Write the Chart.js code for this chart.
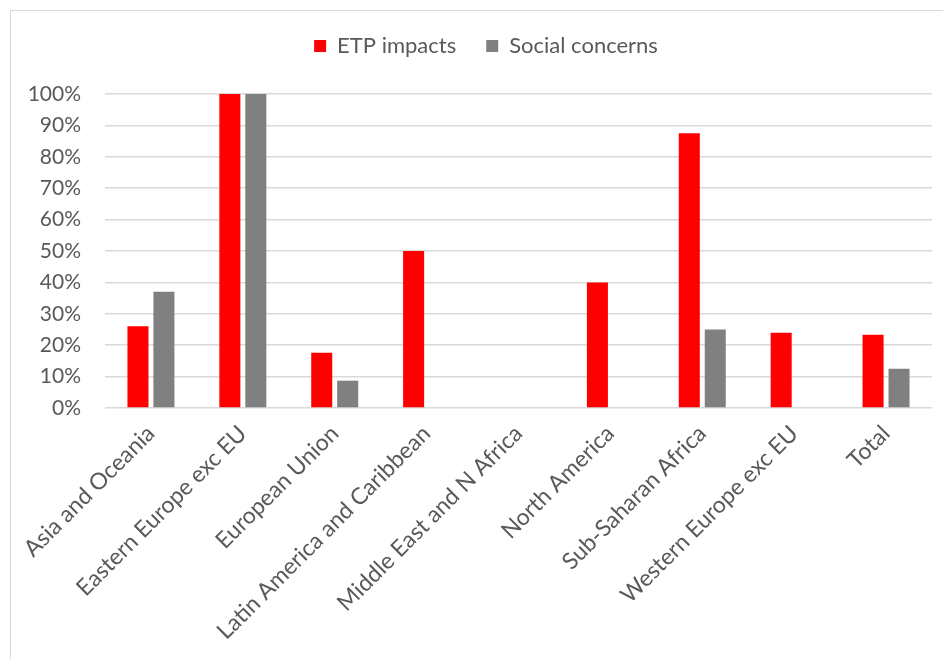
<!DOCTYPE html>
<html lang="en">
<head>
    <meta charset="UTF-8">
    <title>ETP impacts and social concerns by region</title>
    <script src="https://cdn.jsdelivr.net/npm/chart.js"></script>
    <style>
        body {
            margin: 0;
            background-color: #ffffff;
        }

        .wrap {
            position: relative;
            width: 943px;
            height: 659px;
            overflow: hidden;
        }

        /* light frame round the chart, only top and left edges show */
        .frame {
            position: absolute;
            left: 10px;
            top: 10px;
            width: 960px;
            height: 680px;
            border-top: 1.5px solid #d9d9d9;
            border-left: 1.5px solid #d9d9d9;
        }

        canvas {
            position: absolute;
            left: 0;
            top: 0;
        }
    </style>
</head>
<body>
    <div class="wrap">
        <div class="frame"></div>
        <canvas id="regionChart" width="943" height="659"></canvas>
    </div>

    <script>
        // Regions
        const regions = [
            'Asia and Oceania',
            'Eastern Europe exc EU',
            'European Union',
            'Latin America and Caribbean',
            'Middle East and N Africa',
            'North America',
            'Sub-Saharan Africa',
            'Western Europe exc EU',
            'Total'
        ];

        // Share of cases, percent
        const etpImpacts = [26, 100, 17.6, 50, 0, 40, 87.5, 24, 23.3];
        const socialConcerns = [37, 100, 8.7, 0, 0, 0, 25, 0, 12.5];

        const yTicks = [0, 10, 20, 30, 40, 50, 60, 70, 80, 90, 100];

        const textColor = '#595959';
        const gridColor = '#d9d9d9';
        const fontFamily = 'Lato, "Open Sans", sans-serif';

        // legend: extra room below it, and nudged right a little
        const legendTweak = {
            id: 'legendTweak',
            beforeInit(chart) {
                const legend = chart.legend;
                const fit = legend.fit;
                const draw = legend.draw;
                legend.fit = function () {
                    fit.apply(this, arguments);
                    this.height += 27;
                };
                legend.draw = function () {
                    const c = this.ctx;
                    c.save();
                    c.translate(20, 0);
                    draw.apply(this, arguments);
                    c.restore();
                };
            }
        };

        const ctx = document.getElementById('regionChart').getContext('2d');

        const regionChart = new Chart(ctx, {
            type: 'bar',
            data: {
                labels: regions,
                datasets: [{
                    label: 'ETP impacts',
                    data: etpImpacts,
                    backgroundColor: '#ff0000'
                }, {
                    label: 'Social concerns',
                    data: socialConcerns,
                    backgroundColor: '#808080'
                }]
            },
            plugins: [legendTweak],
            options: {
                responsive: false,
                animation: false,
                categoryPercentage: 0.565,
                barPercentage: 0.81,
                layout: {
                    padding: { top: 5, right: 11, left: 0, bottom: 0 }
                },
                plugins: {
                    legend: {
                        position: 'top',
                        labels: {
                            color: textColor,
                            font: { family: fontFamily, size: 22 },
                            boxWidth: 12,
                            boxHeight: 12,
                            padding: 30
                        }
                    },
                    tooltip: { enabled: false }
                },
                scales: {
                    x: {
                        grid: { display: false },
                        border: { display: false },
                        ticks: {
                            color: textColor,
                            font: { family: fontFamily, size: 23 },
                            minRotation: 45,
                            maxRotation: 45,
                            autoSkip: false,
                            padding: 4
                        },
                        afterFit: function (scale) {
                            scale.height = 251;
                        }
                    },
                    y: {
                        min: 0,
                        max: 100,
                        afterBuildTicks: function (scale) {
                            scale.ticks = yTicks.map(v => ({ value: v }));
                        },
                        grid: {
                            color: gridColor,
                            lineWidth: 1.5,
                            drawTicks: false
                        },
                        border: { display: false },
                        ticks: {
                            color: textColor,
                            font: { family: fontFamily, size: 21 },
                            padding: 24,
                            callback: v => v + '%'
                        },
                        afterFit: function (scale) {
                            scale.width = 105;
                        }
                    }
                }
            }
        });
    </script>
</body>
</html>
